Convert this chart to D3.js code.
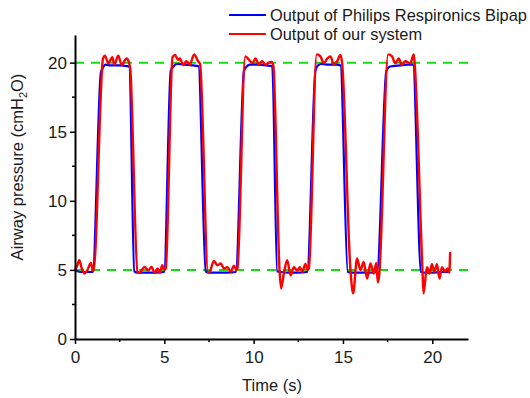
<!DOCTYPE html>
<html>
<head>
<meta charset="utf-8">
<script src="https://cdn.jsdelivr.net/npm/d3@7"></script>
<style>
  body { margin: 0; background: #fff; }
  svg { display: block; font-family: "Liberation Sans", Arial, sans-serif; }
  .axis path, .axis line { stroke: #000; }
  .axis text { fill: #1a1a1a; font-size: 17px; }
</style>
</head>
<body>
<svg id="chart" width="530" height="398"></svg>
<script>
// reference levels (cmH2O)
let refLevels = [20, 5]

// Philips Respironics Bipap output
let bipapTime = [0, 0.3, 0.6, 0.99, 1.45, 1.55, 1.7, 2.0, 2.5, 2.9, 3.04, 3.32, 3.5, 4.0, 4.5, 4.99,
  5.36, 5.5, 5.7, 6.2, 6.6, 6.91, 7.32, 7.5, 8.0, 8.5, 9.0, 9.46, 9.6, 9.8, 10.3, 10.7, 11.04,
  11.32, 11.5, 12.0, 12.5, 13.0, 13.46, 13.6, 13.8, 14.2, 14.6, 14.86, 15.27, 15.5, 16.0, 16.5,
  16.91, 17.43, 17.6, 17.8, 18.2, 18.6, 18.92, 19.37, 19.6, 20.0, 20.5, 21.0]
let bipapPressure = [5.0, 4.85, 4.85, 4.85, 19.3, 19.6, 19.85, 19.8, 19.8, 19.75, 19.7, 4.9, 4.8, 4.8, 4.8, 4.85,
  19.4, 19.7, 19.9, 19.85, 19.8, 19.75, 4.9, 4.8, 4.8, 4.8, 4.85, 19.4, 19.7, 19.85, 19.85, 19.8, 19.75,
  4.9, 4.85, 4.8, 4.8, 4.85, 19.4, 19.8, 19.9, 19.85, 19.85, 19.8, 4.85, 4.8, 4.8, 4.8,
  4.85, 19.4, 19.7, 19.75, 19.8, 19.85, 19.85, 4.85, 4.8, 4.8, 4.85, 4.85]

// output of our system
let oursTime = [0, 0.12, 0.24, 0.38, 0.52, 0.7, 0.89, 1.0, 1.04, 1.57, 1.68, 1.86, 2.09, 2.2, 2.42, 2.61, 2.89, 3.02,
  3.09, 3.5, 3.6, 3.9, 4.1, 4.28, 4.47, 4.62, 4.75, 4.88, 5.0, 5.08,
  5.46, 5.6, 5.77, 5.87, 6.05, 6.24, 6.42, 6.67, 6.89, 7.0,
  7.45, 7.55, 7.78, 7.97, 8.16, 8.34, 8.53, 8.72, 8.9, 9.03, 9.09,
  9.53, 9.75, 9.93, 10.1, 10.3, 10.47, 10.66, 10.85, 11.0, 11.1,
  11.45, 11.54, 11.69, 11.88, 12.07, 12.25, 12.44, 12.59, 12.72, 12.9, 13.02, 13.09,
  13.53, 13.74, 13.93, 14.12, 14.3, 14.49, 14.67, 14.86, 14.95,
  15.42, 15.57, 15.79, 15.98, 16.16, 16.35, 16.54, 16.72, 16.87, 16.95, 17.02,
  17.53, 17.75, 17.93, 18.12, 18.3, 18.49, 18.77, 18.96, 19.01,
  19.45, 19.51, 19.7, 19.85, 19.98, 20.12, 20.26, 20.41, 20.54, 20.72, 20.86, 20.95, 21.0]
let oursPressure = [5.0, 5.3, 5.7, 5.1, 4.75, 5.0, 5.5, 4.95, 4.9, 20.3, 20.5, 19.95, 20.4, 19.85, 20.5, 19.85, 20.3, 20.0,
  19.6, 4.85, 4.79, 5.22, 4.95, 5.22, 4.79, 5.1, 4.79, 5.34, 5.0, 5.1,
  20.4, 20.55, 20.2, 20.3, 19.85, 20.1, 19.85, 20.6, 20.1, 19.9,
  4.8, 4.9, 5.65, 5.34, 5.46, 5.1, 5.2, 4.87, 5.3, 5.0, 5.1,
  20.45, 20.2, 19.95, 20.3, 19.85, 20.1, 19.85, 20.0, 20.05, 19.8,
  5.0, 3.66, 4.74, 5.7, 4.6, 5.2, 4.95, 5.2, 4.86, 5.43, 5.0, 5.1,
  20.6, 20.45, 19.95, 20.3, 20.45, 19.85, 20.1, 20.55, 20.0,
  5.0, 3.3, 5.83, 4.99, 5.58, 4.38, 5.46, 4.74, 5.5, 4.1, 4.5,
  20.6, 20.45, 19.95, 20.3, 19.85, 20.1, 19.95, 20.6, 20.0,
  5.0, 3.3, 5.2, 4.74, 5.42, 4.86, 5.42, 4.38, 5.2, 4.86, 5.1, 4.8, 6.3]

let xTicks = [0, 5, 10, 15, 20]
let yTicks = [0, 5, 10, 15, 20]
let xMinor = [2.5, 7.5, 12.5, 17.5]
let yMinor = [2.5, 7.5, 12.5, 17.5]

let seriesNames = ["Output of Philips Respironics Bipap", "Output of our system"]
let seriesColors = ["#0000ff", "#ff0000"]

let svg = d3.select("#chart")

let scales = {
  x: d3.scaleLinear().domain([0, 22]).range([75, 468]),
  y: d3.scaleLinear().domain([0, 22]).range([339, 35])
}

// dashed reference lines
svg.append("g")
  .selectAll("line")
  .data(refLevels).enter()
  .append("line")
  .attr("x1", scales.x(0))
  .attr("x2", scales.x(22))
  .attr("y1", d => scales.y(d))
  .attr("y2", d => scales.y(d))
  .attr("stroke", "#11dd11")
  .attr("stroke-width", 2)
  .attr("stroke-dasharray", "9,7")

// lines
let series = [
  bipapTime.map((t, i) => ({t: t, p: bipapPressure[i]})),
  oursTime.map((t, i) => ({t: t, p: oursPressure[i]}))
]

let line = d3.line()
  .x(d => scales.x(d.t))
  .y(d => scales.y(d.p))
  .curve(d3.curveMonotoneX)

svg.append("g")
  .selectAll("path")
  .data(series).enter()
  .append("path")
  .attr("d", line)
  .attr("fill", "none")
  .attr("stroke", (d, i) => seriesColors[i])
  .attr("stroke-width", (d, i) => i == 0 ? 2.2 : 2.4)
  .attr("stroke-linejoin", "round")

// axes
let xAxis = d3.axisBottom(scales.x).tickValues(xTicks).tickSize(5).tickPadding(7).tickSizeOuter(0)
let xg = svg.append("g")
  .attr("class", "axis")
  .attr("transform", `translate(0, ${scales.y(0)})`)
  .call(xAxis)
xg.select(".domain").attr("stroke-width", 2)
xg.selectAll(".tick line").attr("stroke-width", 1.5)
xg.selectAll(".minor").data(xMinor).enter()
  .append("line")
  .attr("class", "minor")
  .attr("x1", d => scales.x(d)).attr("x2", d => scales.x(d))
  .attr("y1", 0).attr("y2", 3)
  .attr("stroke", "#000").attr("stroke-width", 1.5)

let yAxis = d3.axisLeft(scales.y).tickValues(yTicks).tickSize(5).tickPadding(3).tickSizeOuter(0)
let yg = svg.append("g")
  .attr("class", "axis")
  .attr("transform", `translate(${scales.x(0)}, 0)`)
  .call(yAxis)
yg.select(".domain").attr("stroke-width", 2)
yg.selectAll(".tick line").attr("stroke-width", 1.5)
yg.selectAll(".minor").data(yMinor).enter()
  .append("line")
  .attr("class", "minor")
  .attr("y1", d => scales.y(d)).attr("y2", d => scales.y(d))
  .attr("x1", 0).attr("x2", -3)
  .attr("stroke", "#000").attr("stroke-width", 1.5)

// axis titles
svg.append("text")
  .attr("x", 272).attr("y", 391)
  .attr("text-anchor", "middle")
  .attr("font-size", 16.5)
  .attr("fill", "#1a1a1a")
  .text("Time (s)")

let ytitle = svg.append("text")
  .attr("transform", "translate(23, 167) rotate(-90)")
  .attr("text-anchor", "middle")
  .attr("font-size", 16.5)
  .attr("fill", "#1a1a1a")
ytitle.append("tspan").text("Airway pressure (cmH")
ytitle.append("tspan").attr("font-size", 11).attr("dy", 4).text("2")
ytitle.append("tspan").attr("dy", -4).text("O)")

// legend
let legend = svg.append("g")
  .selectAll("g")
  .data(seriesNames).enter()
  .append("g")
  .attr("transform", (d, i) => `translate(229, ${15 + i * 19})`)
legend.append("line")
  .attr("x1", 0).attr("x2", 37)
  .attr("stroke", (d, i) => seriesColors[i])
  .attr("stroke-width", 2.2)
legend.append("text")
  .attr("x", 41)
  .attr("dy", "0.35em")
  .attr("font-size", 16.4)
  .attr("fill", "#1a1a1a")
  .text(d => d)
</script>
</body>
</html>
